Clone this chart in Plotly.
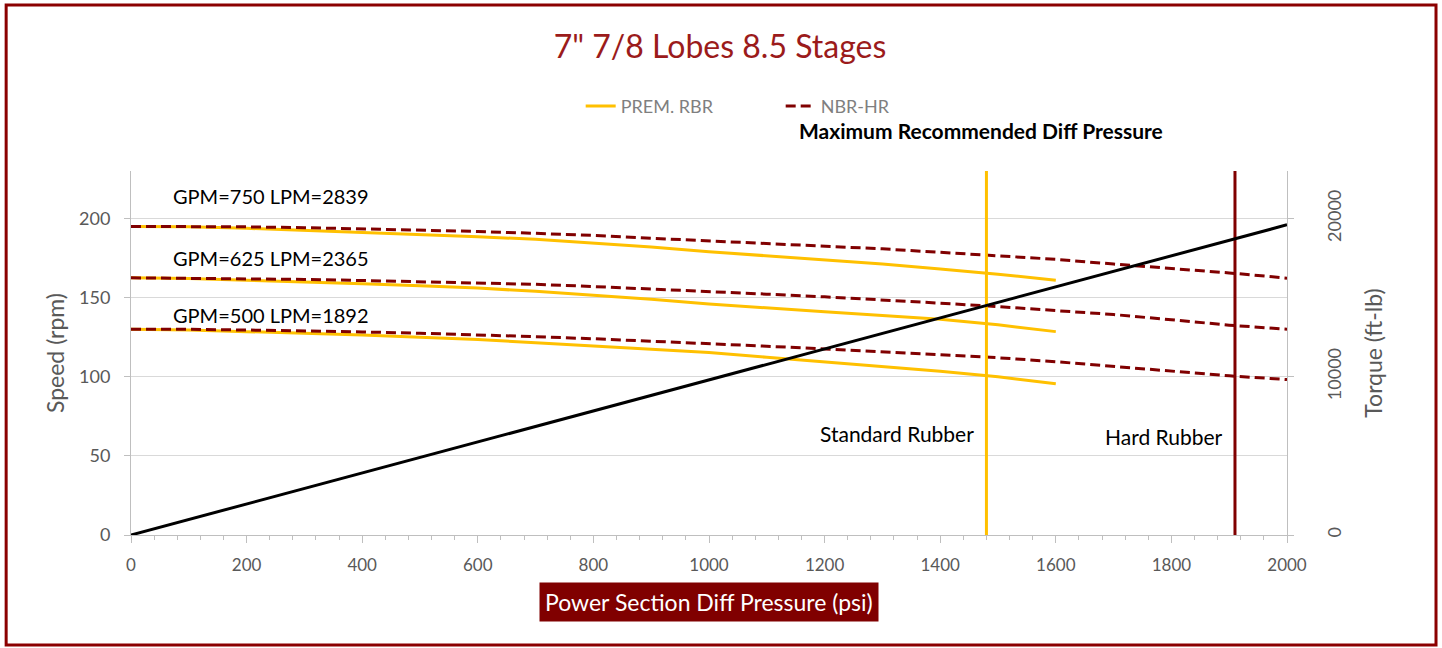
import plotly.graph_objects as go

# ---------------- data ----------------
psi_nbr = [0, 100, 200, 300, 400, 500, 600, 700, 800, 900, 1000,
           1100, 1200, 1300, 1400, 1500, 1600, 1700, 1800, 1900, 2000]
psi_prem = [0, 100, 200, 300, 400, 500, 600, 700, 800, 900, 1000,
            1100, 1200, 1300, 1400, 1500, 1600]

nbr_750 = [195, 195, 194.7, 194.2, 193.5, 192.8, 191.8, 190.6, 189.3, 187.5, 185.8,
           184.3, 182.6, 180.8, 178.6, 176.4, 174.2, 171.2, 168.5, 165.6, 162.3]
nbr_625 = [162.5, 162.3, 162, 161.5, 160.8, 160, 159.4, 158.4, 157, 155.5, 154,
           152.2, 150.5, 148.7, 146.5, 144.3, 142, 139.3, 136, 132.6, 130]
nbr_500 = [130, 130, 129.5, 129, 128.3, 127.5, 126.5, 125.3, 124, 122.5, 121,
           119.3, 117.5, 115.7, 114, 112, 109.5, 106.5, 103.5, 100.6, 98.2]

prem_750 = [195, 194.7, 193.8, 192.5, 191.2, 189.8, 188.5, 186.8, 184.3, 182, 179,
            176.5, 174, 171.2, 168.1, 164.8, 161]
prem_625 = [162.5, 162, 161, 160, 158.8, 157.5, 156, 154, 151.5, 149, 146,
            143.3, 141, 138.7, 136.3, 132.8, 128.5]
prem_500 = [130, 129.5, 128.5, 127.5, 126.3, 125, 123.5, 121.5, 119.5, 117.5, 115.3,
            112.3, 109.5, 106.5, 103.5, 100, 95.5]

torque_psi = [0, 2000]
torque_ftlb = [0, 19600]

standard_rubber_psi = 1480
hard_rubber_psi = 1910

flow_labels = ["GPM=750 LPM=2839", "GPM=625 LPM=2365", "GPM=500 LPM=1892"]
flow_label_speed = [214.5, 175, 139]

x_ticks = [0, 200, 400, 600, 800, 1000, 1200, 1400, 1600, 1800, 2000]
y_ticks = [0, 50, 100, 150, 200]
y2_ticks = [0, 10000, 20000]

# ---------------- style ----------------
YELLOW = "#FFC000"
MAROON = "#800000"
TITLE_RED = "#9B1B1B"
GRAY_TXT = "#595959"
FONT = "Lato"

fig = go.Figure()

prem_series = [prem_750, prem_625, prem_500]
nbr_series = [nbr_750, nbr_625, nbr_500]

for i, ys in enumerate(prem_series):
    fig.add_trace(go.Scatter(x=psi_prem, y=ys, mode="lines", name="PREM. RBR",
                             legendgroup="prem", showlegend=(i == 0),
                             line=dict(color=YELLOW, width=3)))
for i, ys in enumerate(nbr_series):
    fig.add_trace(go.Scatter(x=psi_nbr, y=ys, mode="lines", name="NBR-HR",
                             legendgroup="nbr", showlegend=(i == 0),
                             line=dict(color=MAROON, width=3, dash="10px,5px")))

fig.add_trace(go.Scatter(x=torque_psi, y=torque_ftlb, mode="lines", name="Torque",
                         yaxis="y2", showlegend=False,
                         line=dict(color="black", width=3)))

fig.add_trace(go.Scatter(x=[standard_rubber_psi, standard_rubber_psi], y=[0, 230],
                         mode="lines", name="Standard Rubber", showlegend=False,
                         line=dict(color=YELLOW, width=3)))
fig.add_trace(go.Scatter(x=[hard_rubber_psi, hard_rubber_psi], y=[0, 230],
                         mode="lines", name="Hard Rubber", showlegend=False,
                         line=dict(color=MAROON, width=3)))

annotations = []
for lbl, yv in zip(flow_labels, flow_label_speed):
    annotations.append(dict(x=70, y=yv, xref="x", yref="y", text=lbl, showarrow=False,
                            xanchor="left", yanchor="middle",
                            font=dict(family=FONT, size=20, color="black")))
annotations.append(dict(x=1462, y=64, xref="x", yref="y", text="Standard Rubber",
                        showarrow=False, xanchor="right", yanchor="middle",
                        font=dict(family=FONT, size=21, color="black")))
annotations.append(dict(x=1893, y=62, xref="x", yref="y", text="Hard Rubber",
                        showarrow=False, xanchor="right", yanchor="middle",
                        font=dict(family=FONT, size=21, color="black")))
annotations.append(dict(x=0.7357, y=1.1126, xref="paper", yref="paper",
                        text="<b>Maximum Recommended Diff Pressure</b>",
                        showarrow=False, xanchor="center", yanchor="middle",
                        font=dict(family=FONT, size=21, color="black")))
annotations.append(dict(x=0.5, y=-0.184, xref="paper", yref="paper",
                        text="Power Section Diff Pressure (psi)",
                        showarrow=False, xanchor="center", yanchor="middle",
                        bgcolor=MAROON, borderpad=5,
                        font=dict(family=FONT, size=23, color="white")))

fig.update_layout(
    width=1442, height=648,
    margin=dict(l=131, r=155, t=171, b=113),
    paper_bgcolor="white", plot_bgcolor="white",
    title=dict(text='7" 7/8 Lobes 8.5 Stages', x=720 / 1442, y=1 - 47 / 648,
               xanchor="center", yanchor="middle",
               font=dict(family=FONT, size=32, color=TITLE_RED)),
    showlegend=True,
    legend=dict(orientation="h", x=0.389, y=1.178, xanchor="left", yanchor="middle",
                entrywidth=155, entrywidthmode="pixels",
                font=dict(family=FONT, size=18, color="#7F7F7F"),
                bgcolor="rgba(0,0,0,0)"),
    xaxis=dict(range=[0, 2000], tickvals=x_ticks, showgrid=False, zeroline=False,
               showline=True, linecolor="#BFBFBF", linewidth=1,
               ticks="outside", ticklen=7, tickcolor="#BFBFBF",
               minor=dict(dtick=40, tick0=0, ticks="outside", ticklen=4,
                          tickcolor="#BFBFBF", showgrid=False),
               tickfont=dict(family=FONT, size=17, color=GRAY_TXT),
               ticklabelstandoff=8),
    yaxis=dict(range=[0, 230], tickvals=y_ticks, showgrid=True, gridcolor="#D9D9D9",
               zeroline=False, showline=True, linecolor="#BFBFBF", linewidth=1,
               ticks="outside", ticklen=6, tickcolor="#BFBFBF",
               tickfont=dict(family=FONT, size=18, color=GRAY_TXT),
               ticklabelstandoff=10,
               title=dict(text="Speed (rpm)", standoff=8,
                          font=dict(family=FONT, size=23, color=GRAY_TXT))),
    yaxis2=dict(range=[0, 23000], tickvals=y2_ticks, tickformat="d",
                overlaying="y", side="right",
                showgrid=False, zeroline=False, showline=True, linecolor="#BFBFBF",
                linewidth=1, ticks="outside", ticklen=6, tickcolor="#BFBFBF",
                tickangle=-90, ticklabelstandoff=25,
                tickfont=dict(family=FONT, size=18, color=GRAY_TXT),
                title=dict(text="Torque (ft-lb)", standoff=22,
                           font=dict(family=FONT, size=23, color=GRAY_TXT))),
    annotations=annotations,
    shapes=[dict(type="rect", xref="paper", yref="paper",
                 x0=-0.108, x1=1.1289, y0=-0.302, y1=1.456,
                 line=dict(color="#8B0000", width=3), fillcolor="rgba(0,0,0,0)",
                 layer="below")],
)

fig.write_html("out.html",
               config={"displayModeBar": False},
               post_script="document.body.style.margin='0';document.body.style.overflow='hidden';")
